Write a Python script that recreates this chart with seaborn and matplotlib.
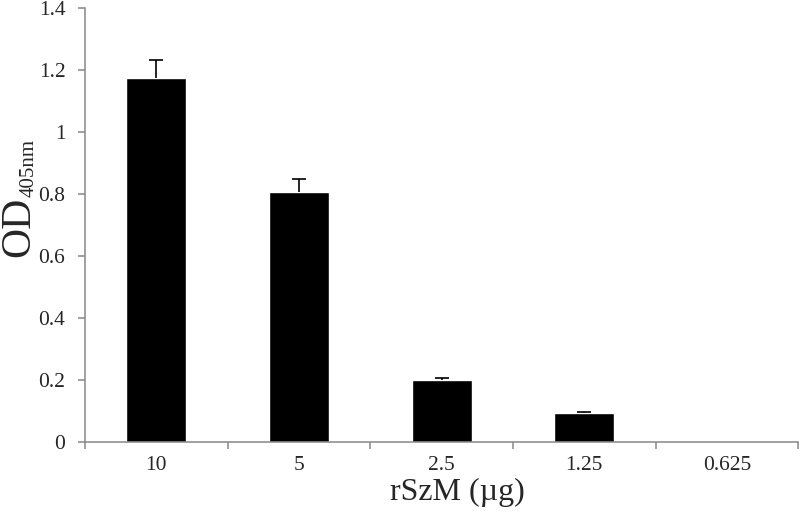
import numpy as np
import pandas as pd
import matplotlib
matplotlib.use("Agg")
import matplotlib.pyplot as plt
import seaborn as sns

# data
doses = ["10", "5", "2.5", "1.25", "0.625"]
od_values = [1.174, 0.806, 0.199, 0.092, 0.0]
od_errors = [0.058, 0.042, 0.008, 0.004, 0.0]

sns.set_style("white")
plt.rcParams["font.family"] = ["Liberation Serif", "DejaVu Serif"]

df = pd.DataFrame({"dose": doses, "od": od_values, "err": od_errors})

fig = plt.figure(figsize=(8, 5.17), dpi=100)
ax = fig.add_axes([0.106, 0.145, 0.892, 0.84])

sns.barplot(data=df, x="dose", y="od", order=doses, color="black",
            width=0.42, errorbar=None, saturation=1, ax=ax)

# upper error bars only (drop the lower cap)
pos = np.arange(len(doses))
mask = df["err"].values > 0
eb = ax.errorbar(pos[mask], df["od"].values[mask],
                 yerr=[np.zeros(mask.sum()), df["err"].values[mask]],
                 fmt="none", ecolor="black", elinewidth=1.2, capsize=5, capthick=1.2)
eb[1][0].remove()

ax.set_ylim(0, 1.4)
ax.set_yticks(np.arange(0, 1.41, 0.2))
ax.set_yticklabels(["0", "0.2", "0.4", "0.6", "0.8", "1", "1.2", "1.4"])
ax.set_xlim(-0.5, len(doses) - 0.5)

grey = "#888888"
for s in ["top", "right"]:
    ax.spines[s].set_visible(False)
for s in ["left", "bottom"]:
    ax.spines[s].set_color(grey)
    ax.spines[s].set_linewidth(1.1)

ax.tick_params(axis="y", which="major", direction="out", length=5, width=1.1,
               color=grey, labelsize=15.5, pad=9, left=True)
ax.tick_params(axis="x", which="major", length=0, labelsize=15.5, pad=10)
ax.set_xticks(np.arange(-0.5, len(doses)), minor=True)
ax.tick_params(axis="x", which="minor", direction="out", length=5, width=1.1,
               color=grey, bottom=True)

ax.set_xlabel("rSzM (\u00b5g)", fontsize=23)
ax.xaxis.set_label_coords(0.522, -0.082)
ax.set_ylabel("")

# y label with small subscript
fig.text(0.0, 0.503, "OD", rotation=90, fontsize=30, ha="left", va="bottom")
fig.text(0.024, 0.619, "405nm", rotation=90, fontsize=15, ha="left", va="bottom")

fig.savefig("out.png", dpi=100)
